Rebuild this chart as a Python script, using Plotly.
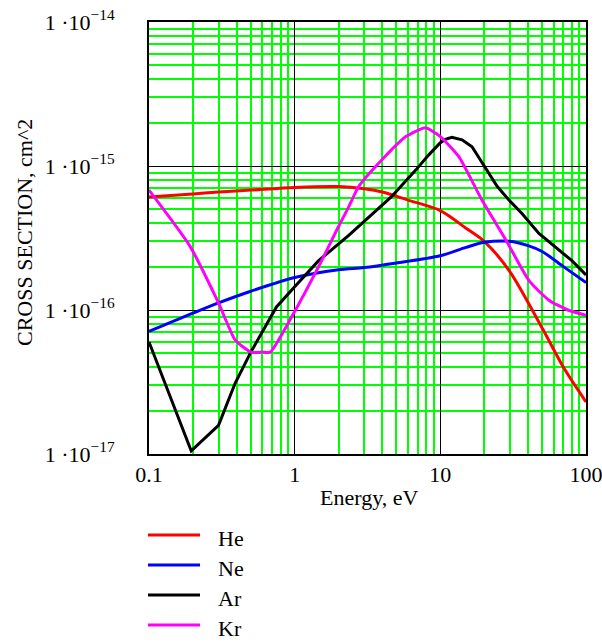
import plotly.graph_objects as go

# Electron scattering cross sections of noble gases (cm^2) vs energy (eV)
he_energy = [0.1, 0.2, 0.3, 0.5, 1, 2, 3, 4, 6, 10, 15, 20, 30, 50, 70, 100]
he_sigma = [6.1e-16, 6.4e-16, 6.6e-16, 6.8e-16, 7.1e-16, 7.2e-16, 6.95e-16, 6.6e-16,
            5.8e-16, 4.9e-16, 3.7e-16, 3.0e-16, 1.85e-16, 7.5e-17, 4.0e-17, 2.3e-17]

ne_energy = [0.1, 0.2, 0.3, 0.5, 1, 2, 3, 5, 10, 15, 20, 30, 40, 50, 70, 100]
ne_sigma = [7.1e-17, 9.5e-17, 1.12e-16, 1.35e-16, 1.68e-16, 1.9e-16, 1.97e-16, 2.12e-16,
            2.38e-16, 2.72e-16, 2.95e-16, 3.0e-16, 2.8e-16, 2.55e-16, 2.0e-16, 1.55e-16]

ar_energy = [0.1, 0.195, 0.3, 0.39, 0.5, 0.75, 1.0, 1.46, 2.35, 4.6, 6.8, 8.3, 10,
             10.8, 12, 14.1, 16.5, 18.9, 21.5, 24.6, 29.6, 36.2, 47.5, 61.5, 80, 100]
ar_sigma = [6.0e-17, 1.05e-17, 1.58e-17, 3.1e-17, 5.1e-17, 1.05e-16, 1.45e-16, 2.2e-16,
            3.3e-16, 6.1e-16, 9.4e-16, 1.19e-15, 1.45e-15, 1.53e-15, 1.58e-15, 1.52e-15,
            1.36e-15, 1.1e-15, 8.9e-16, 7.2e-16, 5.8e-16, 4.7e-16, 3.4e-16, 2.75e-16,
            2.2e-16, 1.75e-16]

kr_energy = [0.1, 0.19, 0.3, 0.39, 0.5, 0.6, 0.68, 0.95, 1.46, 2.0, 2.35, 2.75, 3.96,
             5.8, 7.9, 10, 13.4, 19.3, 28.2, 40.6, 55.6, 75, 100]
kr_sigma = [6.8e-16, 2.8e-16, 1.12e-16, 6.2e-17, 5.1e-17, 5.1e-17, 5.1e-17, 8.9e-17,
            2.0e-16, 3.8e-16, 5.2e-16, 7.2e-16, 1.1e-15, 1.6e-15, 1.84e-15, 1.6e-15,
            1.16e-15, 5.8e-16, 3.06e-16, 1.6e-16, 1.17e-16, 1.0e-16, 9.2e-17]

gases = ["He", "Ne", "Ar", "Kr"]
colors = ["#ff0000", "#0000ff", "#000000", "#ff00ff"]
line_shapes = ["spline", "spline", "linear", "spline"]
smoothing = [0.8, 0.8, 0.0, 0.5]
series = [(he_energy, he_sigma), (ne_energy, ne_sigma),
          (ar_energy, ar_sigma), (kr_energy, kr_sigma)]

x_major = [0.1, 1, 10, 100]
x_labels = ["0.1", "1", "10", "100"]
y_major = [1e-17, 1e-16, 1e-15, 1e-14]
y_labels = ["1 ·10<sup>−17</sup>", "1 ·10<sup>−16</sup>",
            "1 ·10<sup>−15</sup>", "1 ·10<sup>−14</sup>"]


def minor_ticks(first_decade, last_decade):
    vals = []
    for d in range(first_decade, last_decade):
        for m in range(2, 10):
            vals.append(m * 10.0 ** d)
    return vals


FONT = "Liberation Serif, Times New Roman, serif"
W, H = 602, 642
L, R, T, B = 149, 16, 22, 188
PW, PH = W - L - R, H - T - B


def px(x):
    return (x - L) / PW


def py(y):
    return (H - B - y) / PH


fig = go.Figure()
for name, color, shp, sm, (xs, ys) in zip(gases, colors, line_shapes, smoothing, series):
    line = dict(color=color, width=3, shape=shp)
    if shp == "spline":
        line["smoothing"] = sm
    fig.add_trace(go.Scatter(x=xs, y=ys, mode="lines", name=name,
                             line=line, showlegend=False))

axis_common = dict(
    type="log", showline=True, linecolor="black", linewidth=2, mirror=True,
    showgrid=True, gridcolor="black", gridwidth=1, zeroline=False, ticks="",
    tickfont=dict(family=FONT, size=22, color="black"),
    ticklabeloverflow="allow",
)

fig.update_xaxes(
    range=[-1, 2], tickmode="array", tickvals=x_major, ticktext=x_labels,
    minor=dict(tickvals=minor_ticks(-1, 2), showgrid=True,
               gridcolor="#00ff00", gridwidth=1.5, ticks=""),
    ticklabelstandoff=0,
    **axis_common,
)
fig.update_yaxes(
    range=[-17, -14], tickmode="array", tickvals=y_major, ticktext=y_labels,
    minor=dict(tickvals=minor_ticks(-17, -14), showgrid=True,
               gridcolor="#00ff00", gridwidth=1.5, ticks=""),
    ticklabelstandoff=28,
    **axis_common,
)

annotations = [
    dict(text="Energy, eV", x=px(369), y=py(497), xref="paper", yref="paper",
         showarrow=False, xanchor="center", yanchor="middle",
         font=dict(family=FONT, size=22, color="black")),
    dict(text="CROSS SECTION, cm^2", x=px(24), y=py(232), xref="paper", yref="paper",
         showarrow=False, textangle=-90, xanchor="center", yanchor="middle",
         font=dict(family=FONT, size=22, color="black")),
]
shapes = []

# Legend drawn below the plot: a line sample and the gas name per row
legend_rows = [535, 565, 595, 625]
for name, color, row in zip(gases, colors, legend_rows):
    shapes.append(dict(type="line", xref="paper", yref="paper",
                       x0=px(148), x1=px(200), y0=py(row), y1=py(row),
                       line=dict(color=color, width=3)))
    annotations.append(dict(text=name, x=px(216), y=py(row + 3), xref="paper",
                            yref="paper", showarrow=False, xanchor="left",
                            yanchor="middle",
                            font=dict(family=FONT, size=22, color="black")))

fig.update_layout(
    width=W, height=H,
    margin=dict(l=L, r=R, t=T, b=B, autoexpand=False),
    paper_bgcolor="white", plot_bgcolor="white",
    annotations=annotations, shapes=shapes,
    showlegend=False,
)

fig.write_html("out.html")
